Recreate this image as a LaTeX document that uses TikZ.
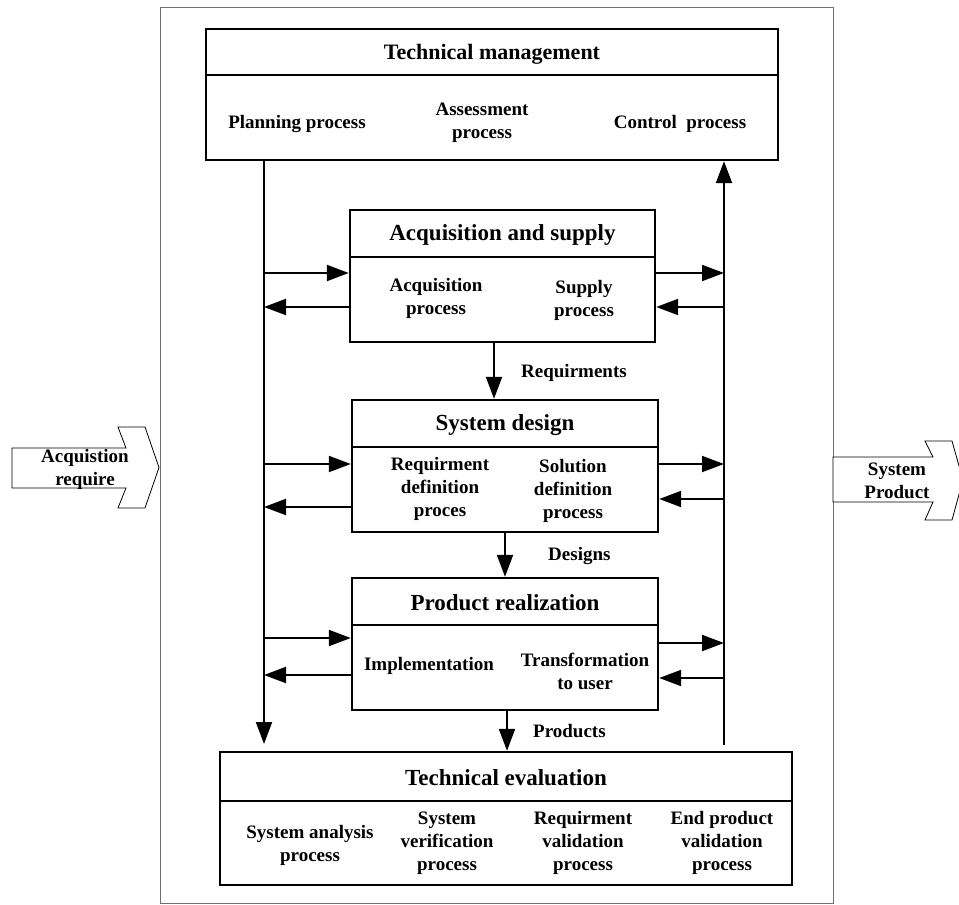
\documentclass[tikz,border=0pt]{standalone}
\usepackage{fontspec}
\setmainfont{Liberation Serif}
\usetikzlibrary{arrows.meta,calc,positioning}
\definecolor{FrameGray}{RGB}{110,110,110}

\begin{document}
\begin{tikzpicture}[x=1pt,y=-1pt,
  procbox/.style={draw,line width=2.4pt,inner sep=0pt,minimum width=306pt,minimum height=132pt},
  boxtitle/.style={font=\fontsize{23}{27}\selectfont\bfseries,inner sep=0pt},
  item/.style={font=\fontsize{19}{23}\selectfont\bfseries,align=center,inner sep=0pt},
  flow/.style={line width=2pt,-{Triangle[length=22pt,width=16pt]}},
  bigarrow/.style={draw,line width=0.8pt,fill=white,line join=miter}]
\useasboundingbox (0,0) rectangle (959,905);
\draw[FrameGray,line width=1pt] (160,7) rectangle (833,903);
% process boxes
\node[procbox,minimum width=572pt,minimum height=131pt] (tm) at (492,94.5) {};
\node[procbox,minimum width=305pt] (as) at (502.5,276) {};
\node[procbox] (sd) at (505,466) {};
\node[procbox] (pr) at (505,644) {};
\node[procbox,minimum width=572pt,minimum height=133pt] (te) at (506,818.5) {};
\foreach \b/\d in {tm/47,as/48,sd/48,pr/48,te/50}
  \draw[line width=2.4pt] ($(\b.north west)+(0,\d)$) -- ($(\b.north east)+(0,\d)$);
\node[boxtitle,font=\fontsize{22}{26}\selectfont\bfseries] (tmT) at ($(tm.north)+(0,26)$) {Technical management};
\node[boxtitle] (asT) at ($(as.north)+(0,26)$) {Acquisition and supply};
\node[boxtitle] (sdT) at ($(sd.north)+(0,26)$) {System design};
\node[boxtitle] (prT) at ($(pr.north)+(0,26)$) {Product realization};
\node[boxtitle] (teT) at ($(te.north)+(0,27)$) {Technical evaluation};
% box contents
\node[item] (plan) at (297,124) {Planning process};
\node[item] (asse) at (482,123) {Assessment\\process};
\node[item] (ctrl) at (680,124) {Control\ \ process};
\node[item] (acqp) at (436,298) {Acquisition\\process};
\node[item] (supp) at (584,300) {Supply\\process};
\node[item] (rdef) at (440,489) {Requirment\\definition\\proces};
\node[item] (sdef) at (573,491) {Solution\\definition\\process};
\node[item] (impl) at (429,666) {Implementation};
\node[item] (tran) at (585,671) {Transformation\\to user};
\node[item] (sana) at (310,845) {System analysis\\process};
\node[item] (sver) at (447,843) {System\\verification\\process};
\node[item] (rval) at (583,843) {Requirment\\validation\\process};
\node[item] (eval) at (722,843) {End product\\validation\\process};
% control lines
\coordinate (lbot) at (264,744);
\coordinate (rbot) at (724,745);
\draw[flow] (tm.south -| lbot) -- (lbot);
\draw[flow] (rbot) -- (tm.south -| rbot);
\draw[flow] (lbot |- 0,273) -- (as.west |- 0,273);\draw[flow] (as.west |- 0,307) -- (lbot |- 0,307);
\draw[flow] (as.east |- 0,273) -- (rbot |- 0,273);\draw[flow] (rbot |- 0,307) -- (as.east |- 0,307);
\draw[flow] (lbot |- 0,464) -- (sd.west |- 0,464);\draw[flow] (sd.west |- 0,507) -- (lbot |- 0,507);
\draw[flow] (sd.east |- 0,464) -- (rbot |- 0,464);\draw[flow] (rbot |- 0,499) -- (sd.east |- 0,499);
\draw[flow] (lbot |- 0,638) -- (pr.west |- 0,638);\draw[flow] (pr.west |- 0,675) -- (lbot |- 0,675);
\draw[flow] (pr.east |- 0,643) -- (rbot |- 0,643);\draw[flow] (rbot |- 0,678) -- (pr.east |- 0,678);
% main flow
\draw[flow] (as.south -| 494,0) -- (sd.north -| 494,0);
\draw[flow] (sd.south -| 505,0) -- (pr.north -| 505,0);
\draw[flow] (pr.south -| 507,0) -- (te.north -| 507,0);
\node[item,anchor=west] (req) at (521,373) {Requirments};
\node[item,anchor=west] (des) at (548,556) {Designs};
\node[item,anchor=west] (prd) at (533,731) {Products};
% input and output
\draw[bigarrow] (12,448) -- (126,448) -- (118,427) -- (145,427) -- (159,467.5) -- (145,508) -- (118,508) -- (126,488) -- (12,488) -- cycle;
\node[item] (inp) at (85,469) {Acquistion\\require};
\draw[bigarrow] (833,457) -- (933,457) -- (925,441) -- (952,441) -- (963,480) -- (952,520) -- (925,520) -- (933,502) -- (833,502) -- cycle;
\node[item] (out) at (897,481) {System\\Product};
\end{tikzpicture}
\end{document}
